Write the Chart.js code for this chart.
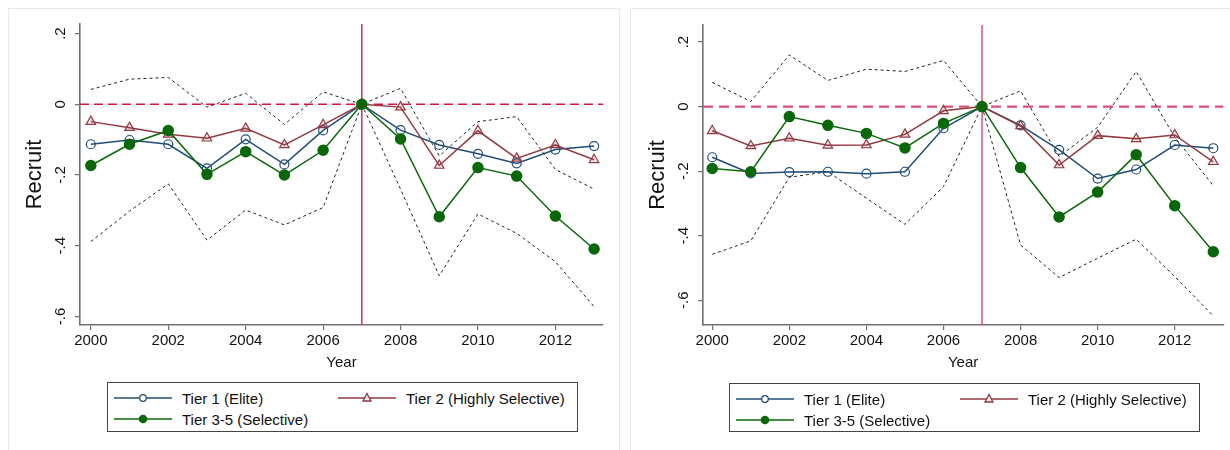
<!DOCTYPE html>
<html>
<head>
<meta charset="utf-8">
<script src="https://cdn.jsdelivr.net/npm/chart.js@4.4.1/dist/chart.umd.min.js"></script>
<style>
  html, body { margin: 0; padding: 0; background: #fff; }
  body { width: 1230px; height: 450px; position: relative; overflow: hidden; font-family: "Liberation Sans", Arial, sans-serif; }
  .frame { position: absolute; border: 1px solid #e4eaed; box-sizing: border-box; }
  .chart { position: absolute; top: 0; height: 450px; }
  .legend { position: absolute; border: 1px solid #444; box-sizing: border-box; background: #fff; }
  .item { position: absolute; height: 20px; display: flex; align-items: center; font-size: 15px; color: #111; white-space: nowrap; }
  .item svg { margin-right: 10px; flex: none; }
</style>
</head>
<body>
<div class="frame" style="left:8px;top:8px;width:612px;height:470px"></div>
<div class="frame" style="left:630px;top:8px;width:620px;height:470px"></div>
<div class="chart" style="left:0;width:620px"><canvas id="left"></canvas></div>
<div class="chart" style="left:623px;width:607px"><canvas id="right"></canvas></div>
<div class="legend" id="legend-left" style="left:107px;top:382px;width:471px;height:50px"></div>
<div class="legend" id="legend-right" style="left:729px;top:383px;width:471px;height:49px"></div>
<script>
"use strict";
const years = [2000, 2001, 2002, 2003, 2004, 2005, 2006, 2007, 2008, 2009, 2010, 2011, 2012, 2013];
const xTicks = [2000, 2002, 2004, 2006, 2008, 2010, 2012];
const yTicks = [-0.6, -0.4, -0.2, 0, 0.2];
const seriesNames = ["Tier 1 (Elite)", "Tier 2 (Highly Selective)", "Tier 3-5 (Selective)"];
const eventYear = 2007;
const baseline = 0;

// left panel
const tier1Left = [-0.113, -0.101, -0.113, -0.181, -0.099, -0.170, -0.074, 0, -0.073, -0.115, -0.140, -0.167, -0.128, -0.118];
const tier2Left = [-0.049, -0.066, -0.085, -0.096, -0.068, -0.115, -0.058, 0, -0.008, -0.173, -0.075, -0.153, -0.115, -0.157];
const tier3Left = [-0.173, -0.113, -0.074, -0.198, -0.134, -0.200, -0.130, 0, -0.098, -0.318, -0.179, -0.203, -0.316, -0.409];
const upperLeft = [0.042, 0.071, 0.076, -0.008, 0.031, -0.057, 0.035, 0, 0.045, -0.146, -0.049, -0.035, -0.184, -0.240];
const lowerLeft = [-0.388, -0.302, -0.225, -0.384, -0.299, -0.341, -0.292, 0, -0.240, -0.485, -0.310, -0.365, -0.445, -0.572];

// right panel
const tier1Right = [-0.157, -0.207, -0.203, -0.202, -0.208, -0.202, -0.067, 0, -0.058, -0.134, -0.223, -0.195, -0.119, -0.129];
const tier2Right = [-0.075, -0.122, -0.098, -0.120, -0.119, -0.086, -0.013, 0, -0.060, -0.181, -0.090, -0.100, -0.088, -0.171];
const tier3Right = [-0.192, -0.202, -0.031, -0.058, -0.083, -0.128, -0.052, 0, -0.189, -0.342, -0.265, -0.149, -0.307, -0.450];
const upperRight = [0.075, 0.016, 0.160, 0.081, 0.116, 0.109, 0.143, 0, 0.049, -0.155, -0.064, 0.109, -0.095, -0.245];
const lowerRight = [-0.458, -0.416, -0.219, -0.202, -0.284, -0.365, -0.248, 0, -0.429, -0.530, -0.470, -0.411, -0.527, -0.649];

const colors = ["#1f4d78", "#913a42", "#0a670a"];
const axisColor = "#707070";
const font = "'Liberation Sans', Arial, sans-serif";

const toPoints = (vals) => years.map((x, i) => ({ x: x, y: vals[i] }));

const fmtTick = (v) => {
    if (Math.abs(v) < 1e-9) return "0";
    const s = Math.abs(v).toFixed(1).replace(/^0/, "");
    return (v < 0 ? "-" : "") + s;
};

const refLines = {
    id: "refLines",
    beforeDatasetsDraw(chart, args, opts) {
        const { ctx, chartArea, scales } = chart;
        ctx.save();
        ctx.lineWidth = opts.hWidth;
        ctx.strokeStyle = opts.hColor;
        ctx.setLineDash(opts.hDash);
        const y0 = scales.y.getPixelForValue(baseline);
        ctx.beginPath();
        ctx.moveTo(chartArea.left, y0);
        ctx.lineTo(chartArea.right, y0);
        ctx.stroke();
        ctx.setLineDash([]);
        ctx.strokeStyle = opts.vColor;
        ctx.lineWidth = 1.5;
        const x0 = scales.x.getPixelForValue(eventYear);
        ctx.beginPath();
        ctx.moveTo(x0, chartArea.top);
        ctx.lineTo(x0, chartArea.bottom);
        ctx.stroke();
        ctx.restore();
    },
};

function ciLine(vals) {
    return {
        data: toPoints(vals),
        borderColor: "#222",
        borderWidth: 1,
        borderDash: [3, 3],
        pointRadius: 0,
        fill: false,
        tension: 0,
    };
}

function makeChart(id, p) {
    const datasets = [
        {
            data: toPoints(p.tier3),
            borderColor: colors[2], borderWidth: 1.5,
            pointStyle: "circle", pointRadius: 5,
            pointBackgroundColor: colors[2], pointBorderColor: colors[2],
        },
        {
            data: toPoints(p.tier2),
            borderColor: colors[1], borderWidth: 1.5,
            pointStyle: "triangle", pointRadius: 5.5, pointBorderWidth: 1.2,
            pointBackgroundColor: "rgba(145,58,66,0.15)", pointBorderColor: colors[1],
        },
        {
            data: toPoints(p.tier1),
            borderColor: colors[0], borderWidth: 1.5,
            pointStyle: "circle", pointRadius: 4.5, pointBorderWidth: 1.2,
            pointBackgroundColor: "rgba(255,255,255,0)", pointBorderColor: colors[0],
        },
        ciLine(p.upper),
        ciLine(p.lower),
    ];
    return new Chart(document.getElementById(id), {
        type: "line",
        data: { datasets: datasets },
        options: {
            responsive: true,
            maintainAspectRatio: false,
            animation: false,
            layout: { padding: { left: 0, right: p.padRight, top: p.padTop, bottom: 65 } },
            plugins: {
                legend: { display: false },
                tooltip: { enabled: false },
                refLines: { hColor: p.hColor, vColor: p.vColor, hWidth: p.hWidth, hDash: p.hDash },
            },
            scales: {
                x: {
                    type: "linear",
                    min: p.xMin, max: p.xMax,
                    afterBuildTicks: (s) => { s.ticks = xTicks.map((v) => ({ value: v })); },
                    afterFit: (s) => { s.height = 60; },
                    border: { display: true, color: axisColor, width: 1.6 },
                    grid: { drawOnChartArea: false, drawTicks: true, tickLength: 5, color: axisColor, lineWidth: 1.2 },
                    ticks: { color: "#111", font: { family: font, size: 15 }, padding: 2, maxRotation: 0, callback: (v) => String(v) },
                    title: { display: true, text: "Year", color: "#111", font: { family: font, size: 15 }, padding: { top: 0, bottom: 13 } },
                },
                y: {
                    min: p.yMin, max: p.yMax,
                    afterBuildTicks: (s) => { s.ticks = yTicks.map((v) => ({ value: v })); },
                    afterFit: (s) => { s.width = 80; },
                    border: { display: true, color: axisColor, width: 1.6 },
                    grid: { drawOnChartArea: false, drawTicks: true, tickLength: 5, color: axisColor, lineWidth: 1.2 },
                    ticks: {
                        color: "#111", font: { family: font, size: 15 }, padding: 5,
                        minRotation: 90, maxRotation: 90, crossAlign: "center",
                        callback: (v) => fmtTick(v),
                    },
                    title: { display: true, text: "Recruit", color: "#111", font: { family: font, size: 22 }, padding: { top: 22, bottom: 0 } },
                },
            },
        },
        plugins: [refLines],
    });
}

function symbol(i) {
    const c = colors[i];
    let mark;
    if (i === 0) mark = `<circle cx="29" cy="10" r="3.3" fill="#fff" stroke="${c}" stroke-width="1.3"/>`;
    else if (i === 1) mark = `<polygon points="29,5.5 33,13 25,13" fill="#f3e6e7" stroke="${c}" stroke-width="1.3"/>`;
    else mark = `<circle cx="29" cy="10" r="4.3" fill="${c}"/>`;
    return `<svg width="58" height="20"><line x1="0" y1="10" x2="58" y2="10" stroke="${c}" stroke-width="1.5"/>${mark}</svg>`;
}

function buildLegend(id) {
    const box = document.getElementById(id);
    const spots = [[6, 5], [230, 5], [6, 26]];
    seriesNames.forEach((name, i) => {
        const el = document.createElement("div");
        el.className = "item";
        el.style.left = spots[i][0] + "px";
        el.style.top = spots[i][1] + "px";
        el.innerHTML = symbol(i) + "<span>" + name + "</span>";
        box.appendChild(el);
    });
}

makeChart("left", {
    tier1: tier1Left, tier2: tier2Left, tier3: tier3Left, upper: upperLeft, lower: lowerLeft,
    xMin: 1999.72, xMax: 2013.23, yMin: -0.624, yMax: 0.227,
    padTop: 24, padRight: 17, hColor: "#dc143c", vColor: "#cc3358", hWidth: 1.6, hDash: [9, 5],
});
makeChart("right", {
    tier1: tier1Right, tier2: tier2Right, tier3: tier3Right, upper: upperRight, lower: lowerRight,
    xMin: 1999.76, xMax: 2013.26, yMin: -0.677, yMax: 0.253,
    padTop: 25, padRight: 4, hColor: "#d9507a", vColor: "#d9507a", hWidth: 2.2, hDash: [10, 6],
});
buildLegend("legend-left");
buildLegend("legend-right");
</script>
</body>
</html>
